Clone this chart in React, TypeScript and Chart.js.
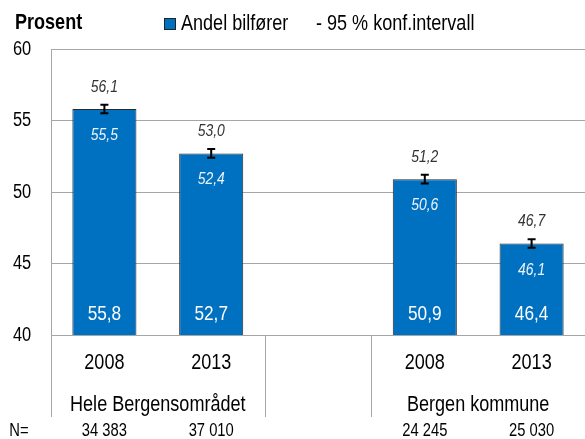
import React, { useEffect, useRef } from "react";
import { Chart, registerables } from "chart.js";

Chart.register(...registerables);

const categories = ["2008", "2013", "", "2008", "2013"];
const groups = ["Hele Bergensområdet", "Bergen kommune"];
const groupSpans = [[0, 1], [3, 4]];
const values = [55.8, 52.7, null, 50.9, 46.4];
const ciLow = [55.5, 52.4, null, 50.6, 46.1];
const ciHigh = [56.1, 53.0, null, 51.2, 46.7];
const nValues = ["34 383", "37 010", "", "24 245", "25 030"];
const yTicks = [40, 45, 50, 55, 60];
const yLabel = "Prosent";
const seriesLabel = "Andel bilfører";
const ciLabel = "- 95 % konf.intervall";

const BLUE = "#0070C0";
const GRID = "#a6a6a6";

let NARROW: boolean | null = null;
function hasNarrow(): boolean {
  if (NARROW !== null) return NARROW;
  const c = document.createElement("canvas").getContext("2d")!;
  c.font = "40px 'Liberation Sans Narrow', monospace";
  const a = c.measureText("abcdefghijklm 2008").width;
  c.font = "40px monospace";
  const b = c.measureText("abcdefghijklm 2008").width;
  NARROW = Math.abs(a - b) > 0.5;
  return NARROW;
}

function txt(
  ctx: CanvasRenderingContext2D,
  s: string,
  x: number,
  y: number,
  size: number,
  o: { bold?: boolean; italic?: boolean; color?: string; align?: CanvasTextAlign } = {}
) {
  ctx.save();
  ctx.fillStyle = o.color || "#000";
  ctx.textBaseline = "middle";
  ctx.textAlign = o.align || "center";
  const pre = `${o.italic ? "italic " : ""}${o.bold ? "bold " : ""}`;
  if (hasNarrow()) {
    ctx.font = `${pre}${size}px 'Liberation Sans Narrow'`;
    ctx.fillText(s, x, y);
  } else {
    ctx.translate(x, y);
    ctx.scale(0.82, 1);
    ctx.font = `${pre}${size}px 'Liberation Sans', Arial, sans-serif`;
    ctx.fillText(s, 0, 0);
  }
  ctx.restore();
}

const fmt = (v: number) => v.toFixed(1).replace(".", ",");

const decorPlugin = {
  id: "decor",
  afterDraw(chart: any) {
    const ctx: CanvasRenderingContext2D = chart.ctx;
    const xs = chart.scales.x;
    const ys = chart.scales.y;
    const area = chart.chartArea;

    // y tick labels
    yTicks.forEach((t) => {
      txt(ctx, String(t), area.left - 29, ys.getPixelForValue(t), 20, { align: "center" });
    });

    // x axis line + separators
    ctx.save();
    ctx.strokeStyle = GRID;
    ctx.lineWidth = 1;
    ctx.beginPath();
    ctx.moveTo(area.left, area.bottom + 0.5);
    ctx.lineTo(area.right, area.bottom + 0.5);
    const bottomLine = area.bottom + 82;
    ctx.moveTo(area.left + 0.5, area.top);
    ctx.lineTo(area.left + 0.5, bottomLine);
    for (let i = 1; i < categories.length; i++) {
      const isBoundary = groupSpans.some((g) => g[0] === i) || groupSpans.some((g) => g[1] === i - 1);
      if (!isBoundary) continue;
      const xb = Math.round((xs.getPixelForValue(i - 1) + xs.getPixelForValue(i)) / 2) + 0.5;
      ctx.moveTo(xb, area.bottom);
      ctx.lineTo(xb, bottomLine);
    }
    ctx.stroke();
    ctx.restore();

    // error bars & labels
    values.forEach((v, i) => {
      if (v === null) return;
      const x = xs.getPixelForValue(i);
      const yH = ys.getPixelForValue(ciHigh[i] as number);
      const yL = ys.getPixelForValue(ciLow[i] as number);
      ctx.save();
      ctx.strokeStyle = "#000";
      ctx.lineWidth = 2;
      ctx.beginPath();
      ctx.moveTo(x, yH);
      ctx.lineTo(x, yL);
      ctx.moveTo(x - 4, yH);
      ctx.lineTo(x + 4, yH);
      ctx.moveTo(x - 4, yL);
      ctx.lineTo(x + 4, yL);
      ctx.stroke();
      ctx.restore();
      txt(ctx, fmt(ciHigh[i] as number), x, yH - 18, 17, { italic: true, color: "#333" });
      txt(ctx, fmt(ciLow[i] as number), x, yL + 22, 17, { italic: true, color: "#eef3f8" });
      txt(ctx, fmt(v), x, area.bottom - 21, 21, { color: "#fff" });
    });

    // category labels and N row
    categories.forEach((c, i) => {
      const x = xs.getPixelForValue(i);
      if (c) txt(ctx, c, x, area.bottom + 28, 22);
      if (nValues[i]) txt(ctx, nValues[i], x, area.bottom + 96, 18);
    });
    txt(ctx, "N=", 19, area.bottom + 96, 18);
    groups.forEach((g, gi) => {
      const [a, b] = groupSpans[gi];
      const x = (xs.getPixelForValue(a) + xs.getPixelForValue(b)) / 2;
      txt(ctx, g, x, area.bottom + 70, 22);
    });

    // header: axis title + legend
    txt(ctx, yLabel, 15, 23, 22, { bold: true, align: "left" });
    ctx.save();
    ctx.fillStyle = BLUE;
    ctx.strokeStyle = "#222";
    ctx.lineWidth = 1;
    ctx.fillRect(164.5, 18.5, 11, 11);
    ctx.strokeRect(164.5, 18.5, 11, 11);
    ctx.restore();
    txt(ctx, seriesLabel, 181, 24, 22, { align: "left" });
    txt(ctx, ciLabel, 316, 24, 22, { align: "left" });
  },
};

export default function App() {
  const ref = useRef<HTMLCanvasElement>(null);
  useEffect(() => {
    const chart = new Chart(ref.current!, {
      type: "bar",
      data: {
        labels: categories,
        datasets: [
          {
            label: seriesLabel,
            data: values as any,
            backgroundColor: BLUE,
            borderColor: "#2a2a2a",
            borderWidth: 1,
            categoryPercentage: 1,
            barPercentage: 0.6,
          },
        ],
      },
      options: {
        responsive: false,
        animation: false,
        events: [],
        layout: { padding: { top: 49, bottom: 104, left: 0, right: 0 } },
        plugins: { legend: { display: false }, tooltip: { enabled: false } },
        scales: {
          x: { display: false },
          y: {
            min: 40,
            max: 60,
            afterBuildTicks: (axis: any) => {
              axis.ticks = yTicks.map((v) => ({ value: v }));
            },
            afterFit: (axis: any) => {
              axis.width = 51;
            },
            ticks: { display: false },
            grid: { color: GRID, drawTicks: false, lineWidth: 1 },
            border: { display: false },
          },
        },
      },
      plugins: [decorPlugin],
    });
    return () => chart.destroy();
  }, []);
  return (
    <div style={{ position: "absolute", left: 0, top: 0, width: 585, height: 439, background: "#fff" }}>
      <canvas ref={ref} width={585} height={439} />
    </div>
  );
}
